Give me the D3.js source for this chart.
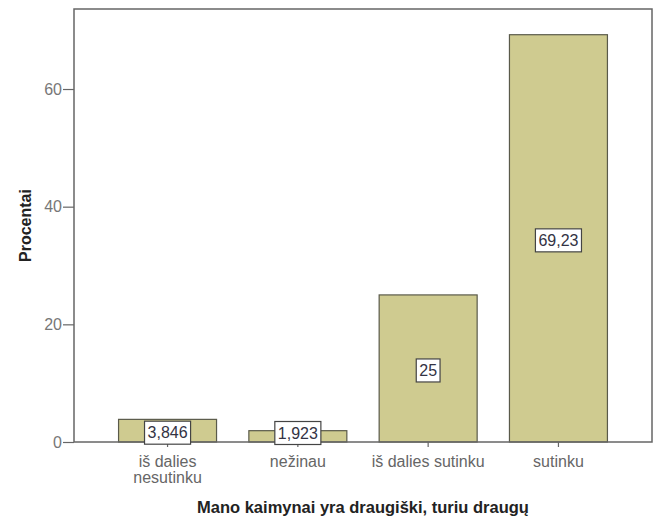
<!DOCTYPE html>
<html><head><meta charset="utf-8">
<script src="https://cdn.jsdelivr.net/npm/d3@7"></script>
<style>body{margin:0;background:#fff}</style>
</head><body>
<svg id="c" width="659" height="518"></svg>
<script>
const categories = [["iš dalies","nesutinku"],["nežinau"],["iš dalies sutinku"],["sutinku"]];
const values = [3.846, 1.923, 25, 69.23];
const valueLabels = ["3,846","1,923","25","69,23"];
const yTicks = [0, 20, 40, 60];
const xTitle = "Mano kaimynai yra draugiški, turiu draugų";
const yTitle = "Procentai";

const svg = d3.select("#c");
const L = 74, R = 652, T = 9, B = 442;
const keys = categories.map((c,i)=>i);
const x = d3.scaleBand().domain(keys).range([L,R]).paddingInner(0.248).paddingOuter(0.342);
const y = d3.scaleLinear().domain([0,73.6]).range([B,T]);
const font = "Liberation Sans, Arial, sans-serif";

// bars
svg.selectAll("rect.bar").data(values).enter().append("rect")
  .attr("x",(d,i)=>x(i)).attr("width",x.bandwidth())
  .attr("y",d=>y(d)).attr("height",d=>B-y(d))
  .attr("fill","#cfcb90").attr("stroke","#5a5a4a").attr("stroke-width",1.2);

// frame
svg.append("rect").attr("x",L).attr("y",T).attr("width",R-L).attr("height",B-T)
  .attr("fill","none").attr("stroke","#666").attr("stroke-width",1.5);

// y axis
const ya = svg.append("g").attr("transform",`translate(${L},0)`)
  .call(d3.axisLeft(y).tickValues(yTicks).tickSize(11).tickPadding(1).tickFormat(d3.format("d")));
ya.select(".domain").remove();
ya.selectAll("line").attr("stroke","#666").attr("stroke-width",1.2);
ya.selectAll("text").attr("fill","#777").style("font-family",font).style("font-size","16px");

// x axis
const xa = svg.append("g").attr("transform",`translate(0,${B})`)
  .call(d3.axisBottom(x).tickSize(5).tickFormat(""));
xa.select(".domain").remove();
xa.selectAll("line").attr("stroke","#666").attr("stroke-width",1.2);
xa.selectAll(".tick").each(function(d){
  const t = d3.select(this).append("text").attr("fill","#666").attr("text-anchor","middle")
    .style("font-family",font).style("font-size","16px");
  categories[d].forEach((line,j)=>{
    t.append("tspan").attr("x",0).attr("y",25+j*16).text(line);
  });
});

// value labels
const lab = svg.selectAll("g.lab").data(values).enter().append("g")
  .attr("transform",(d,i)=>`translate(${x(i)+x.bandwidth()/2},${Math.min(y(d/2)+2, B-9)})`);
lab.each(function(d,i){
  const g = d3.select(this);
  const t = g.append("text").attr("text-anchor","middle").attr("dy","0.36em")
    .attr("fill","#333344").style("font-family",font).style("font-size","16px").text(valueLabels[i]);
  const w = t.node().getComputedTextLength();
  g.insert("rect","text").attr("x",-w/2-3).attr("y",-11.5).attr("width",w+6).attr("height",23)
    .attr("fill","#fff").attr("stroke","#444").attr("stroke-width",1.2);
});

// titles
svg.append("text").attr("x",(L+R)/2).attr("y",513).attr("text-anchor","middle")
  .style("font-family",font).style("font-size","16.5px").style("font-weight","bold").attr("fill","#222").text(xTitle);
svg.append("text").attr("transform",`translate(31,${(T+B)/2}) rotate(-90)`).attr("text-anchor","middle")
  .style("font-family",font).style("font-size","16px").style("font-weight","bold").attr("fill","#222").text(yTitle);
</script>
</body></html>
